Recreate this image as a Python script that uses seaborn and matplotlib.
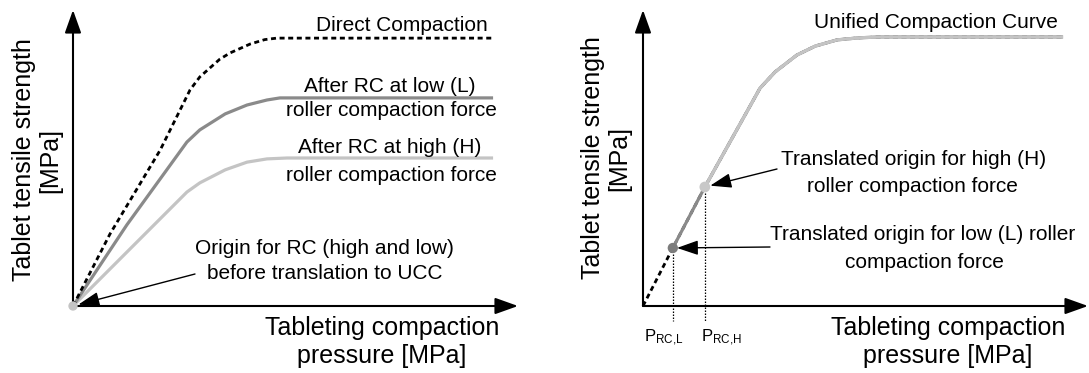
import matplotlib
matplotlib.use("Agg")
import matplotlib.pyplot as plt
import seaborn as sns

# ---------------- data (arbitrary units) ----------------
direct_p = [0, 8.3, 19.6, 26.3, 28.5, 33.0, 35.3, 39.8, 43.1, 45.8, 94.4]
direct_ts = [0, 24.3, 52.7, 73.0, 77.4, 83.4, 85.5, 88.5, 90.0, 90.5, 90.5]

rc_low_p = [0, 12.1, 25.6, 28.5, 34.2, 39.1, 43.6, 46.5, 94.4]
rc_low_ts = [0, 27.4, 55.4, 59.5, 64.9, 67.9, 69.6, 70.3, 70.3]

rc_high_p = [0, 12.1, 25.6, 28.5, 34.2, 39.1, 43.6, 48.1, 94.4]
rc_high_ts = [0, 18.2, 38.5, 41.6, 46.0, 48.6, 49.7, 50.0, 50.0]

ucc_p = [0, 6.7, 13.9, 26.3, 29.7, 34.6, 38.7, 43.6, 48.5, 53.3, 94.4]
ucc_ts = [0, 19.6, 40.2, 73.6, 79.1, 84.8, 87.8, 89.9, 90.6, 90.9, 90.9]
idx_low = 1   # translated origin (L) on the UCC
idx_high = 2  # translated origin (H) on the UCC

x_label = "Tableting compaction\npressure [MPa]"
y_label = "Tablet tensile strength\n[MPa]"

# ---------------- style ----------------
sns.set_theme(style="white")
plt.rcParams["font.family"] = ["Liberation Sans", "DejaVu Sans"]
plt.rcParams["text.color"] = "black"
plt.rcParams["mathtext.fontset"] = "custom"
plt.rcParams["mathtext.rm"] = "Liberation Sans"
plt.rcParams["mathtext.it"] = "Liberation Sans:italic"
plt.rcParams["mathtext.bf"] = "Liberation Sans:bold"

W, H = 1089, 373
fig = plt.figure(figsize=(W / 100, H / 100), dpi=100)
fig.patch.set_facecolor("white")

DARK = "#8a8a8a"
LIGHT = "#c4c4c4"


def fx(x):
    return x / W


def fy(y):
    return 1 - y / H


def make_axes(x0):
    # origin at pixel (x0, 306), arrows 445 px right / 296 px up
    ax = fig.add_axes([fx(x0), fy(306), 445 / W, 296 / H])
    ax.set_xlim(0, 100)
    ax.set_ylim(0, 100)
    ax.axis("off")
    ax.patch.set_alpha(0)
    return ax


def axis_arrows(ax):
    style = "-|>,head_length=1.4,head_width=0.5"
    for tip in [(100, 0), (0, 100)]:
        ax.annotate("", xy=tip, xytext=(0, 0), xycoords="data", textcoords="data",
                    annotation_clip=False,
                    arrowprops=dict(arrowstyle=style, mutation_scale=10, lw=1.5,
                                    color="black", shrinkA=0, shrinkB=0))


def pointer(ax, tip, tail_px, shrink=4):
    ax.annotate("", xy=tip, xycoords="data", xytext=(tail_px[0], H - tail_px[1]),
                textcoords="figure pixels", annotation_clip=False,
                arrowprops=dict(arrowstyle="-|>,head_length=1.3,head_width=0.45",
                                mutation_scale=10, lw=1.0, color="black",
                                shrinkA=0, shrinkB=shrink))


def line(ax, x, y, color, lw, dashes=None, z=2):
    sns.lineplot(x=x, y=y, ax=ax, color=color, linewidth=lw, sort=False,
                 estimator=None, legend=False)
    ln = ax.lines[-1]
    ln.set_clip_on(False)
    ln.set_zorder(z)
    ln.set_solid_capstyle("butt")
    ln.set_solid_joinstyle("round")
    if dashes is not None:
        ln.set_dashes(dashes)
    return ln


TXT = 15
BIG = 18

# ---------------- left panel ----------------
axL = make_axes(73)
line(axL, rc_high_p, rc_high_ts, LIGHT, 2.3, z=2)
line(axL, rc_low_p, rc_low_ts, DARK, 2.3, z=3)
line(axL, direct_p, direct_ts, "black", 2.0, dashes=(1.8, 1.3), z=4)
axL.set_xlim(0, 100)
axL.set_ylim(0, 100)
axL.axis("off")
axis_arrows(axL)
axL.scatter([rc_low_p[0]], [rc_low_ts[0]], s=45, color=LIGHT, zorder=5,
            edgecolors="none", clip_on=False)
pointer(axL, (rc_low_p[0], rc_low_ts[0]), (195, 274), shrink=4)

fig.text(fx(402), fy(31), "Direct Compaction", fontsize=TXT, ha="center", va="baseline")
fig.text(fx(390), fy(92), "After RC at low (L)", fontsize=TXT, ha="center", va="baseline")
fig.text(fx(391), fy(116), "roller compaction force", fontsize=TXT, ha="center", va="baseline")
fig.text(fx(390), fy(153), "After RC at high (H)", fontsize=TXT, ha="center", va="baseline")
fig.text(fx(391), fy(181), "roller compaction force", fontsize=TXT, ha="center", va="baseline")
fig.text(fx(324), fy(254), "Origin for RC (high and low)", fontsize=TXT, ha="center", va="baseline")
fig.text(fx(325), fy(279), "before translation to UCC", fontsize=TXT, ha="center", va="baseline")

fig.text(fx(382), fy(335), x_label.split("\n")[0], fontsize=BIG, ha="center", va="baseline")
fig.text(fx(382), fy(363), x_label.split("\n")[1], fontsize=BIG, ha="center", va="baseline")
fig.text(fx(37), fy(160), y_label, fontsize=BIG, ha="center", va="center",
         rotation=90, linespacing=1.12, multialignment="center")

# ---------------- right panel ----------------
axR = make_axes(643)
line(axR, ucc_p, ucc_ts, "black", 2.0, dashes=(1.8, 1.3), z=2)
line(axR, ucc_p[idx_low:], ucc_ts[idx_low:], DARK, 2.3, z=3)
line(axR, ucc_p[idx_high:], ucc_ts[idx_high:], LIGHT, 2.3, z=4)
axR.set_xlim(0, 100)
axR.set_ylim(0, 100)
axR.axis("off")
axis_arrows(axR)

for i in [idx_low, idx_high]:
    axR.plot([ucc_p[i], ucc_p[i]], [ucc_ts[i], -5.1], color="black", lw=0.9,
             linestyle=(0, (1.2, 1.2)), clip_on=False, zorder=1)
axR.scatter([ucc_p[idx_low]], [ucc_ts[idx_low]], s=55, color="#7c7c7c", zorder=6,
            edgecolors="none", clip_on=False)
axR.scatter([ucc_p[idx_high]], [ucc_ts[idx_high]], s=60, color="#c8c8c8", zorder=6,
            edgecolors="none", clip_on=False)
pointer(axR, (ucc_p[idx_high], ucc_ts[idx_high]), (777, 169), shrink=4)
pointer(axR, (ucc_p[idx_low], ucc_ts[idx_low]), (770, 247), shrink=3)

fig.text(fx(936), fy(28), "Unified Compaction Curve", fontsize=TXT, ha="center", va="baseline")
fig.text(fx(914), fy(165), "Translated origin for high (H)", fontsize=TXT, ha="center", va="baseline")
fig.text(fx(912), fy(192), "roller compaction force", fontsize=TXT, ha="center", va="baseline")
fig.text(fx(770), fy(240), "Translated origin for low (L) roller", fontsize=TXT, ha="left", va="baseline")
fig.text(fx(924), fy(268), "compaction force", fontsize=TXT, ha="center", va="baseline")

fig.text(fx(644), fy(342), r"$\mathrm{P_{RC{,}L}}$", fontsize=12, ha="left", va="baseline")
fig.text(fx(701), fy(342), r"$\mathrm{P_{RC{,}H}}$", fontsize=12, ha="left", va="baseline")

fig.text(fx(948), fy(335), x_label.split("\n")[0], fontsize=BIG, ha="center", va="baseline")
fig.text(fx(948), fy(363), x_label.split("\n")[1], fontsize=BIG, ha="center", va="baseline")
fig.text(fx(606), fy(158), y_label, fontsize=BIG, ha="center", va="center",
         rotation=90, linespacing=1.12, multialignment="center")

fig.savefig("out.png", dpi=100, facecolor="white")
